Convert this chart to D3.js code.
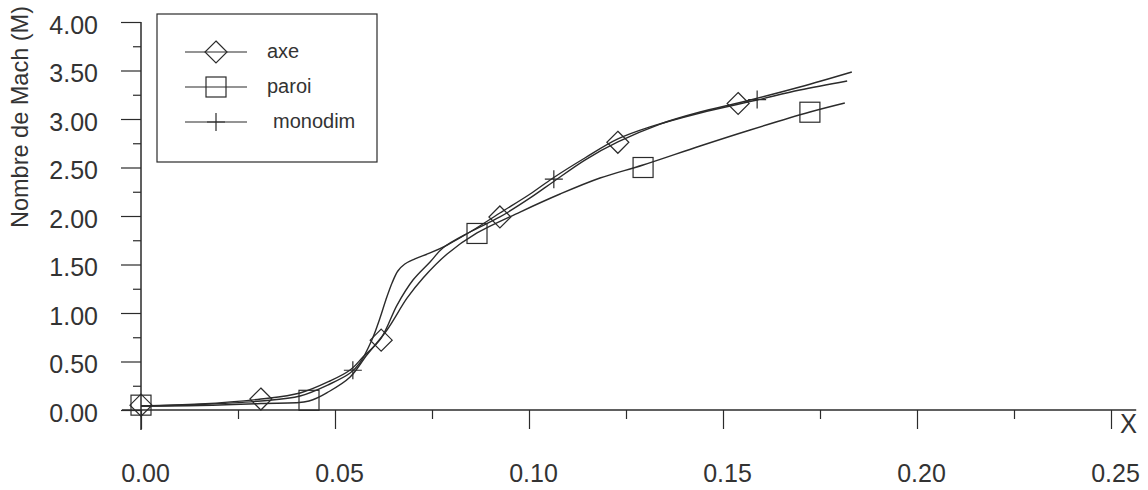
<!DOCTYPE html>
<html>
<head>
<meta charset="utf-8">
<script src="https://cdn.jsdelivr.net/npm/d3@7"></script>
<style>
  html, body { margin: 0; padding: 0; background: #fff; }
  svg { display: block; font-family: "Liberation Sans", Arial, sans-serif; }
</style>
</head>
<body>
<svg id="chart" width="1148" height="490"></svg>
<script>
// ---- Data ----
const xTicks = [0, 0.05, 0.10, 0.15, 0.20, 0.25];
const yTicks = [0, 0.5, 1.0, 1.5, 2.0, 2.5, 3.0, 3.5, 4.0];
const xTickLabels = ["0.00", "0.05", "0.10", "0.15", "0.20", "0.25"];
const yTickLabels = ["0.00", "0.50", "1.00", "1.50", "2.00", "2.50", "3.00", "3.50", "4.00"];
const seriesNames = ["axe", "paroi", "monodim"];

// Curve "axe"
const axeX = [0, 0.0152, 0.0309, 0.0410, 0.0487, 0.0539, 0.0572, 0.0619, 0.0660, 0.0701, 0.0745, 0.0778, 0.0848, 0.0925, 0.1003, 0.1062, 0.1144, 0.1229, 0.1338, 0.1441, 0.1539, 0.1698, 0.1832];
const axeY = [0.041, 0.062, 0.113, 0.175, 0.299, 0.412, 0.546, 0.742, 1.082, 1.340, 1.526, 1.670, 1.835, 1.990, 2.186, 2.351, 2.577, 2.763, 2.948, 3.072, 3.165, 3.330, 3.485];
// Curve "paroi"
const paroiX = [0, 0.0152, 0.0309, 0.0433, 0.0487, 0.0539, 0.0582, 0.0634, 0.0686, 0.0727, 0.0789, 0.0866, 0.0977, 0.1080, 0.1183, 0.1294, 0.1441, 0.1570, 0.1724, 0.1814];
const paroiY = [0.041, 0.046, 0.067, 0.093, 0.196, 0.340, 0.567, 0.825, 1.155, 1.361, 1.608, 1.825, 2.041, 2.227, 2.392, 2.526, 2.722, 2.887, 3.072, 3.165];
// Curve "monodim"
const monoX = [0, 0.0152, 0.0309, 0.0410, 0.0487, 0.0539, 0.0564, 0.0595, 0.0616, 0.0631, 0.0647, 0.0662, 0.0680, 0.0706, 0.0745, 0.0789, 0.0848, 0.0925, 0.1003, 0.1062, 0.1144, 0.1229, 0.1312, 0.1441, 0.1588, 0.1698, 0.1820];
const monoY = [0.041, 0.057, 0.093, 0.144, 0.268, 0.381, 0.485, 0.722, 0.948, 1.134, 1.309, 1.433, 1.505, 1.557, 1.619, 1.701, 1.835, 2.031, 2.227, 2.392, 2.598, 2.794, 2.918, 3.062, 3.196, 3.299, 3.392];

// Markers
const axeMarkX = [0, 0.0309, 0.0619, 0.0925, 0.1229, 0.1539];
const axeMarkY = [0.05, 0.113, 0.72, 1.99, 2.76, 3.16];
const paroiMarkX = [0, 0.0433, 0.0866, 0.1294, 0.1724];
const paroiMarkY = [0.05, 0.10, 1.82, 2.50, 3.07];
const monoMarkX = [0.0546, 0.1064, 0.1588];
const monoMarkY = [0.41, 2.38, 3.20];

// ---- Drawing ----
const ink = "#2b2b2b";
const svg = d3.select("#chart");
const x = d3.scaleLinear().domain([0, 0.25]).range([141, 1111]);
const y = d3.scaleLinear().domain([0, 4]).range([410, 22]);

// Axis lines
svg.append("line").attr("x1", x(0) - 19).attr("x2", x(0.2565)).attr("y1", y(0)).attr("y2", y(0))
  .attr("stroke", ink).attr("stroke-width", 1.5);
svg.append("line").attr("x1", x(0)).attr("x2", x(0)).attr("y1", y(4)).attr("y2", y(0) + 20)
  .attr("stroke", ink).attr("stroke-width", 1.5);

// X axis: major ticks + labels
const xAxis = d3.axisBottom(x).tickValues(xTicks)
  .tickFormat((d, i) => xTickLabels[i]).tickSize(19).tickPadding(35).tickSizeOuter(0);
const gx = svg.append("g").attr("transform", `translate(0,${y(0)})`).call(xAxis);
gx.select(".domain").remove();
gx.selectAll(".tick line").attr("stroke", ink).attr("stroke-width", 1.2);
gx.selectAll(".tick text").attr("fill", "#333").attr("font-size", 25)
  .attr("font-family", "'Liberation Sans', Arial, sans-serif").attr("dx", 4);

// X minor ticks
const xMinor = d3.axisBottom(x).tickValues([0.025, 0.075, 0.125, 0.175, 0.225]).tickSize(9).tickFormat("");
const gxm = svg.append("g").attr("transform", `translate(0,${y(0)})`).call(xMinor);
gxm.select(".domain").remove();
gxm.selectAll(".tick line").attr("stroke", ink).attr("stroke-width", 1.2);

// Y axis: major ticks + labels
const yAxis = d3.axisLeft(y).tickValues(yTicks)
  .tickFormat((d, i) => yTickLabels[i]).tickSize(20).tickPadding(23).tickSizeOuter(0);
const gy = svg.append("g").attr("transform", `translate(${x(0)},0)`).call(yAxis);
gy.select(".domain").remove();
gy.selectAll(".tick line").attr("stroke", ink).attr("stroke-width", 1.2);
gy.selectAll(".tick text").attr("fill", "#333").attr("font-size", 25).attr("dy", "0.44em")
  .attr("font-family", "'Liberation Sans', Arial, sans-serif");

// Y minor ticks
const yMinor = d3.axisLeft(y).tickValues([0.25, 0.75, 1.25, 1.75, 2.25, 2.75, 3.25, 3.75]).tickSize(8).tickFormat("");
const gym = svg.append("g").attr("transform", `translate(${x(0)},0)`).call(yMinor);
gym.select(".domain").remove();
gym.selectAll(".tick line").attr("stroke", ink).attr("stroke-width", 1.2);

// Axis titles
svg.append("text").attr("transform", "translate(28,117) rotate(-90)")
  .attr("text-anchor", "middle").attr("font-size", 24).attr("fill", "#333")
  .attr("textLength", 222).attr("lengthAdjust", "spacingAndGlyphs")
  .text("Nombre de Mach (M)");
svg.append("text").attr("x", 1120).attr("y", 433).attr("font-size", 27).attr("fill", "#333")
  .attr("textLength", 17).attr("lengthAdjust", "spacingAndGlyphs").text("X");

// Curves
const line = d3.line().x(d => x(d[0])).y(d => y(d[1])).curve(d3.curveCatmullRom.alpha(0.5));
const curves = [
  { xs: axeX, ys: axeY },
  { xs: paroiX, ys: paroiY },
  { xs: monoX, ys: monoY }
];
curves.forEach(c => {
  svg.append("path").datum(c.xs.map((v, i) => [v, c.ys[i]]))
    .attr("d", line).attr("fill", "none").attr("stroke", ink).attr("stroke-width", 1.4);
});

// Marker drawers
function diamond(g, cx, cy) {
  const r = 11;
  g.append("path").attr("d", `M${cx},${cy - r}L${cx + r},${cy}L${cx},${cy + r}L${cx - r},${cy}Z`)
    .attr("fill", "none").attr("stroke", ink).attr("stroke-width", 1.2);
}
function square(g, cx, cy) {
  const r = 10;
  g.append("rect").attr("x", cx - r).attr("y", cy - r).attr("width", 2 * r).attr("height", 2 * r)
    .attr("fill", "none").attr("stroke", ink).attr("stroke-width", 1.2);
}
function plus(g, cx, cy) {
  const r = 9;
  g.append("path").attr("d", `M${cx - r},${cy}H${cx + r}M${cx},${cy - r}V${cy + r}`)
    .attr("fill", "none").attr("stroke", ink).attr("stroke-width", 1.2);
}

const gm = svg.append("g");
axeMarkX.forEach((v, i) => diamond(gm, x(v), y(axeMarkY[i])));
paroiMarkX.forEach((v, i) => square(gm, x(v), y(paroiMarkY[i])));
monoMarkX.forEach((v, i) => plus(gm, x(v), y(monoMarkY[i])));

// Legend
const lg = svg.append("g");
lg.append("rect").attr("x", 157).attr("y", 14).attr("width", 220).attr("height", 148)
  .attr("fill", "none").attr("stroke", ink).attr("stroke-width", 1.2);
const drawers = [diamond, square, plus];
const rowY = [52, 87, 122];
const textX = [267, 267, 273];
seriesNames.forEach((name, i) => {
  lg.append("line").attr("x1", 185).attr("x2", 247).attr("y1", rowY[i]).attr("y2", rowY[i])
    .attr("stroke", ink).attr("stroke-width", 1.2);
  drawers[i](lg, 216, rowY[i]);
  lg.append("text").attr("x", textX[i]).attr("y", rowY[i] + 6).attr("font-size", 20)
    .attr("fill", "#333").text(name);
});
</script>
</body>
</html>
